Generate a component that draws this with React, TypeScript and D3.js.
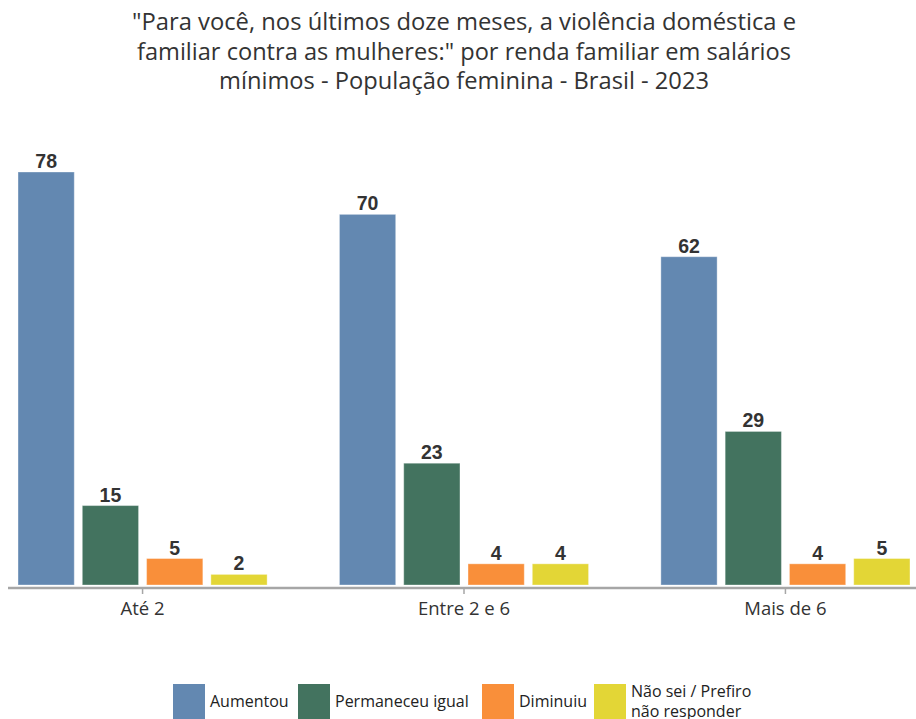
import React from 'react';
import * as d3 from 'd3';

const WIDTH = 916;
const HEIGHT = 719;

const titleLines = [
    '"Para você, nos últimos doze meses, a violência doméstica e',
    'familiar contra as mulheres:" por renda familiar em salários',
    'mínimos - População feminina - Brasil - 2023',
];
const titleWidths = [664, 654, 490];

const categories = ['Até 2', 'Entre 2 e 6', 'Mais de 6'];
const seriesNames = ['Aumentou', 'Permaneceu igual', 'Diminuiu', 'Não sei / Prefiro não responder'];
const seriesColors = ['#6388b1', '#43735f', '#f98f3a', '#e3d636'];

const aumentou = [78, 70, 62];
const permaneceu = [15, 23, 29];
const diminuiu = [5, 4, 4];
const naoSei = [2, 4, 5];

const seriesValues = [aumentou, permaneceu, diminuiu, naoSei];

const legendLabels = [['Aumentou'], ['Permaneceu igual'], ['Diminuiu'], ['Não sei / Prefiro', 'não responder']];
const legendX = [173, 298, 482, 594];

const FONT = '"Open Sans", "Noto Sans", sans-serif';

export default function App() {
    const baseline = 585;
    const x0 = d3.scaleBand<string>()
        .domain(categories)
        .range([14, 914])
        .paddingInner(0.2)
        .paddingOuter(0);
    const x1 = d3.scaleBand<string>()
        .domain(seriesNames)
        .range([0, x0.bandwidth()])
        .paddingInner(0.125)
        .paddingOuter(0.0625);
    const y = d3.scaleLinear().domain([0, 78]).range([baseline, 172]);

    return (
        <svg width={WIDTH} height={HEIGHT} style={{position: 'absolute', top: 0, left: 0}}>
            <rect width={WIDTH} height={HEIGHT} fill="#fff" />
            {titleLines.map((t, i) => (
                <text key={i} x={464} y={30 + i * 29.5} textAnchor="middle"
                      fontFamily={FONT} fontSize={23} textLength={titleWidths[i]}
                      lengthAdjust="spacingAndGlyphs" fill="#333">{t}</text>
            ))}

            {categories.map((c, ci) => (
                <g key={c} transform={`translate(${x0(c)},0)`}>
                    {seriesNames.map((s, si) => {
                        const v = seriesValues[si][ci];
                        const bx = x1(s) ?? 0;
                        return (
                            <g key={s}>
                                <rect x={bx} y={y(v)} width={x1.bandwidth()} height={baseline - y(v)}
                                      fill={seriesColors[si]} stroke="#ffffff" strokeOpacity={0.35} strokeWidth={1} />
                                <text x={bx + x1.bandwidth() / 2} y={y(v) - 4} textAnchor="middle"
                                      fontFamily='"Liberation Sans", Arial, sans-serif' fontWeight="bold"
                                      fontSize={19.5} fill="#333">{v}</text>
                            </g>
                        );
                    })}
                </g>
            ))}

            <line x1={8} x2={916} y1={588} y2={588} stroke="#a6a6a6" strokeWidth={2.5} />
            {categories.map(c => {
                const cx = (x0(c) ?? 0) + x0.bandwidth() / 2;
                return (
                    <g key={c}>
                        <line x1={cx} x2={cx} y1={588} y2={594} stroke="#a6a6a6" strokeWidth={1.5} />
                        <text x={cx} y={615} textAnchor="middle" fontFamily={FONT} fontSize={18.5} fill="#333">{c}</text>
                    </g>
                );
            })}

            {seriesNames.map((s, i) => (
                <g key={s}>
                    <rect x={legendX[i]} y={684} width={32} height={35} fill={seriesColors[i]} />
                    {legendLabels[i].map((l, li) => (
                        <text key={li} x={legendX[i] + 37}
                              y={legendLabels[i].length > 1 ? 697 + li * 20 : 707}
                              fontFamily={FONT} fontSize={16} fill="#222">{l}</text>
                    ))}
                </g>
            ))}
        </svg>
    );
}
